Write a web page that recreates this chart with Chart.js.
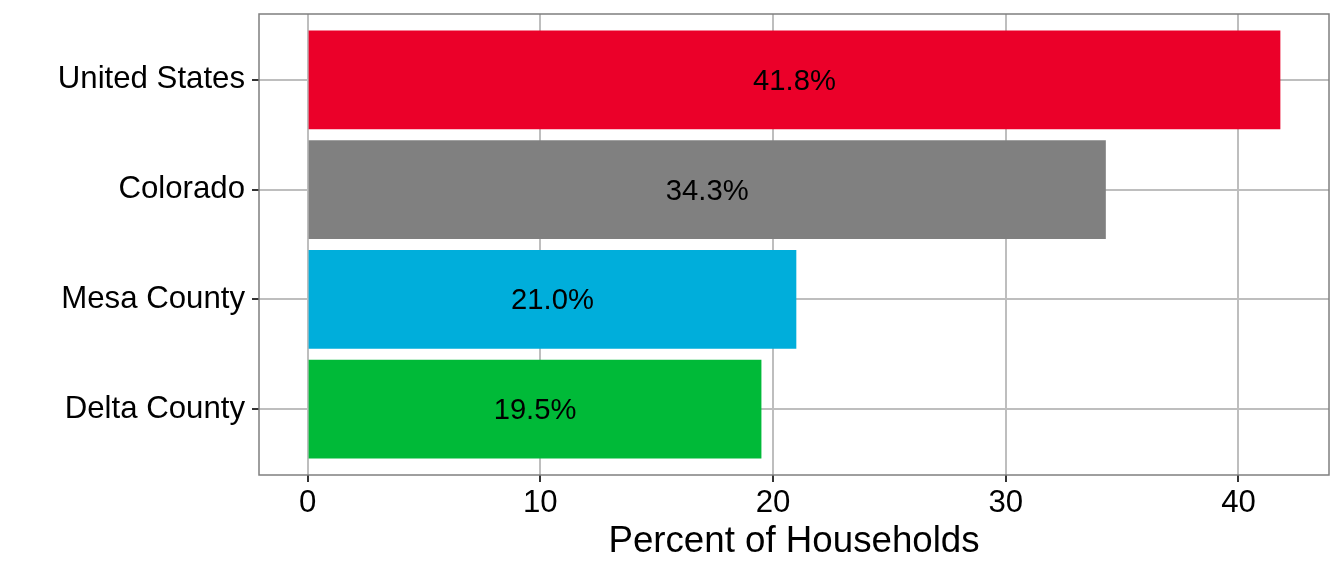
<!DOCTYPE html>
<html>
<head>
<meta charset="utf-8">
<script src="https://cdn.jsdelivr.net/npm/chart.js@4/dist/chart.umd.min.js"></script>
<style>
  html, body { margin: 0; padding: 0; background: #ffffff; }
  #wrap { width: 1344px; height: 576px; }
</style>
</head>
<body>
<div id="wrap"><canvas id="myChart" width="1344" height="576"></canvas></div>
<script>
// bottom to top, like ggplot's coord_flip order
var categories = ["Delta County", "Mesa County", "Colorado", "United States"];
var values = [19.5, 21.0, 34.3, 41.8];
var barColors = ["#00BA38", "#00AEDB", "#808080", "#EB0029"];
var xTicks = [0, 10, 20, 30, 40];
var xTitle = "Percent of Households";

var FONT = "'Liberation Sans', Arial, sans-serif";

// category i sits at i+1 on a linear axis, with ggplot's 0.6 expansion
var positions = categories.map(function(c, i){ return i + 1; });
var points = values.map(function(v, i){ return {x: v, y: positions[i]}; });

// ggplot default expansion: 5% of the data range on each side
var maxVal = Math.max.apply(null, values);
var xPad = maxVal * 0.05;

var panelBorder = {
    id: 'panelBorder',
    afterDraw: function(chart){
        var a = chart.chartArea, ctx = chart.ctx;
        ctx.save();
        ctx.strokeStyle = '#7f7f7f';
        ctx.lineWidth = 1.5;
        ctx.strokeRect(a.left, a.top, a.right - a.left, a.bottom - a.top);
        ctx.restore();
    }
};

var barLabels = {
    id: 'barLabels',
    afterDatasetsDraw: function(chart){
        var ctx = chart.ctx;
        var meta = chart.getDatasetMeta(0);
        ctx.save();
        ctx.fillStyle = '#000000';
        ctx.font = "29.2px " + FONT;
        ctx.textAlign = 'center';
        ctx.textBaseline = 'middle';
        meta.data.forEach(function(bar, i){
            var cx = (bar.x + bar.base) / 2;
            ctx.fillText(values[i].toFixed(1) + "%", cx, bar.y + 2);
        });
        ctx.restore();
    }
};

var ctx = document.getElementById('myChart').getContext('2d');
var myChart = new Chart(ctx, {
    type: 'bar',
    data: {
        datasets: [{
            data: points,
            backgroundColor: barColors,
            borderWidth: 0,
            barPercentage: 0.9,
            categoryPercentage: 1.0
        }]
    },
    options: {
        indexAxis: 'y',
        responsive: false,
        animation: false,
        layout: { padding: { left: 0, top: 14, right: 15, bottom: 0 } },
        plugins: {
            legend: { display: false },
            tooltip: { enabled: false }
        },
        scales: {
            y: {
                type: 'linear',
                offset: false,
                min: 0.4,
                max: categories.length + 0.6,
                afterBuildTicks: function(scale){
                    scale.ticks = positions.map(function(p){ return {value: p}; });
                },
                afterFit: function(scale){
                    scale.width = 259;
                    scale.paddingTop = 0;
                    scale.paddingBottom = 0;
                },
                grid: {
                    offset: false,
                    color: '#bebebe',
                    lineWidth: 2,
                    drawTicks: true,
                    tickLength: 7,
                    tickColor: '#333333',
                    tickWidth: 2
                },
                border: { display: false },
                ticks: {
                    color: '#000000',
                    font: { family: FONT, size: 31.2 },
                    padding: 7,
                    callback: function(v){ return categories[v - 1]; }
                }
            },
            x: {
                type: 'linear',
                min: -xPad,
                max: maxVal + xPad,
                afterBuildTicks: function(scale){
                    scale.ticks = xTicks.map(function(t){ return {value: t}; });
                },
                afterFit: function(scale){
                    scale.height = 101;
                    scale.paddingLeft = 0;
                    scale.paddingRight = 0;
                },
                grid: {
                    color: '#bebebe',
                    lineWidth: 2,
                    tickLength: 7,
                    tickColor: '#333333',
                    tickWidth: 2
                },
                border: { display: false },
                ticks: {
                    color: '#000000',
                    font: { family: FONT, size: 31.2 },
                    padding: 3,
                    maxRotation: 0
                },
                title: {
                    display: true,
                    text: xTitle,
                    color: '#000000',
                    font: { family: FONT, size: 36.7 },
                    padding: { top: 0, bottom: 12 }
                }
            }
        }
    },
    plugins: [panelBorder, barLabels]
});
</script>
</body>
</html>
